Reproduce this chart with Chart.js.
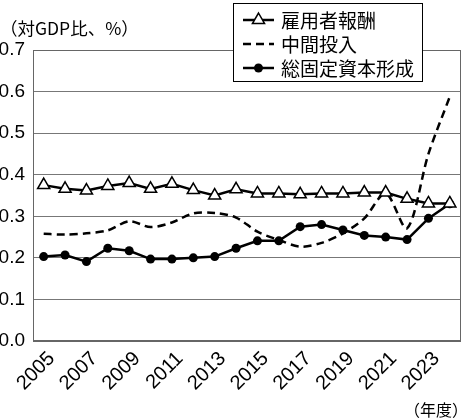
<!DOCTYPE html>
<html><head><meta charset="utf-8">
<script src="https://cdn.jsdelivr.net/npm/chart.js@4/dist/chart.umd.min.js"></script>
<style>html,body{margin:0;padding:0;background:#fff}#wrap{width:469px;height:418px;position:relative}</style>
</head><body><div id="wrap"><canvas id="c" width="469" height="418"></canvas></div>
<script>
const years = ['2005','2006','2007','2008','2009','2010','2011','2012','2013','2014','2015','2016','2017','2018','2019','2020','2021','2022','2023','2024'];
const compensation = [0.375,0.366,0.362,0.373,0.380,0.366,0.378,0.363,0.350,0.365,0.355,0.355,0.353,0.355,0.355,0.357,0.357,0.342,0.331,0.331];
const intermediate = [0.258,0.256,0.259,0.266,0.288,0.274,0.285,0.307,0.308,0.297,0.263,0.243,0.227,0.236,0.259,0.295,0.355,0.271,0.450,0.588];
const gfcf = [0.203,0.207,0.191,0.223,0.217,0.197,0.197,0.200,0.203,0.223,0.241,0.241,0.275,0.280,0.267,0.254,0.250,0.244,0.295,0.330];
const seriesNames = ['雇用者報酬','中間投入','総固定資本形成'];
const yTicks = [0,0.1,0.2,0.3,0.4,0.5,0.6,0.7];
const yTitle = '（対GDP比、%）';
const xTitle = '（年度）';

const CJK = "'Noto Sans CJK JP', sans-serif";
const NUM = "'Liberation Sans Narrow', 'Liberation Sans', Arial, sans-serif";

function drawMarker(ctx, style, x, y){
  ctx.save();
  ctx.lineWidth = 1.5; ctx.strokeStyle = '#000';
  if(style==='triangle'){
    const r=7; ctx.beginPath();
    for(let k=0;k<3;k++){const a=k*2*Math.PI/3; const px=x+Math.sin(a)*r, py=y-Math.cos(a)*r; k?ctx.lineTo(px,py):ctx.moveTo(px,py);}
    ctx.closePath(); ctx.fillStyle='#fff'; ctx.fill(); ctx.stroke();
  } else if(style==='circle'){
    ctx.beginPath(); ctx.arc(x,y,4.5,0,Math.PI*2); ctx.fillStyle='#000'; ctx.fill();
  }
  ctx.restore();
}

const overlay = {
  id:'overlay',
  beforeDatasetsDraw(chart){
    const {ctx, chartArea:a} = chart;
    ctx.save(); ctx.strokeStyle='#666'; ctx.lineWidth=1;
    ctx.strokeRect(Math.round(a.left)+0.5, Math.round(a.top)+0.5, Math.round(a.right-a.left)-1, Math.round(a.bottom-a.top)-1);
    ctx.restore();
  },
  afterDraw(chart){
    const ctx = chart.ctx;
    ctx.save();
    ctx.fillStyle='#000'; ctx.font = '17.5px '+CJK; ctx.textBaseline='middle'; ctx.textAlign='left';
    ctx.fillText(yTitle, 0, 28);
    ctx.textAlign='right'; ctx.font='16px '+CJK;
    ctx.fillText(xTitle, 468, 410);
    const lx=233, ly=3, lw=189, lh=78;
    ctx.fillStyle='#fff'; ctx.fillRect(lx,ly,lw,lh);
    ctx.strokeStyle='#000'; ctx.lineWidth=1; ctx.strokeRect(lx+0.5,ly+0.5,lw,lh);
    const styles = ['triangle', null, 'circle'];
    chart.data.datasets.forEach((ds,i)=>{
      const y = ly + 17 + i*24;
      ctx.save(); ctx.strokeStyle='#000'; ctx.lineWidth=2.5;
      ctx.setLineDash(ds.borderDash||[]);
      ctx.beginPath(); ctx.moveTo(lx+10,y); ctx.lineTo(lx+41,y); ctx.stroke(); ctx.restore();
      if(styles[i]) drawMarker(ctx, styles[i], lx+25.5, y);
      ctx.fillStyle='#000'; ctx.font='19px '+CJK; ctx.textAlign='left'; ctx.textBaseline='middle';
      ctx.fillText(ds.label, lx+48, y+1);
    });
    ctx.restore();
  }
};

new Chart(document.getElementById('c'), {
  type:'line',
  data:{
    labels: years,
    datasets:[
      {label:seriesNames[0], data:compensation, borderColor:'#000', borderWidth:2.5, pointStyle:'triangle', pointRadius:7, pointBackgroundColor:'#fff', pointBorderColor:'#000', pointBorderWidth:1.5, tension:0},
      {label:seriesNames[1], data:intermediate, borderColor:'#000', borderWidth:2.5, borderDash:[8,5], pointRadius:0, tension:0.3},
      {label:seriesNames[2], data:gfcf, borderColor:'#000', borderWidth:2.5, pointStyle:'circle', pointRadius:4.5, pointBackgroundColor:'#000', pointBorderColor:'#000', pointBorderWidth:0, tension:0}
    ]
  },
  options:{
    responsive:false, animation:false,
    layout:{padding:{top:50, right:5, left:0, bottom:0}},
    plugins:{legend:{display:false}, tooltip:{enabled:false}},
    scales:{
      x:{
        offset:true,
        grid:{display:false, drawTicks:false},
        border:{display:true, color:'#666', width:1},
        ticks:{autoSkip:false, maxRotation:45, minRotation:45, padding:6, labelOffset:8, color:'#000', font:{family:NUM, size:20},
          callback:(v,i)=> i%2===0 ? years[i] : null},
        afterFit:(s)=>{s.height=77;}
      },
      y:{
        min:0, max:0.7,
        grid:{color:'#777', lineWidth:1, drawTicks:false},
        border:{display:true, color:'#666', width:1},
        afterBuildTicks:(s)=>{s.ticks = yTicks.map(v=>({value:v}));},
        ticks:{padding:8, color:'#000', font:{family:NUM, size:19}, callback:(v)=>Number(v).toFixed(1)},
        afterFit:(s)=>{s.width=33;}
      }
    }
  },
  plugins:[overlay]
});
</script></body></html>
